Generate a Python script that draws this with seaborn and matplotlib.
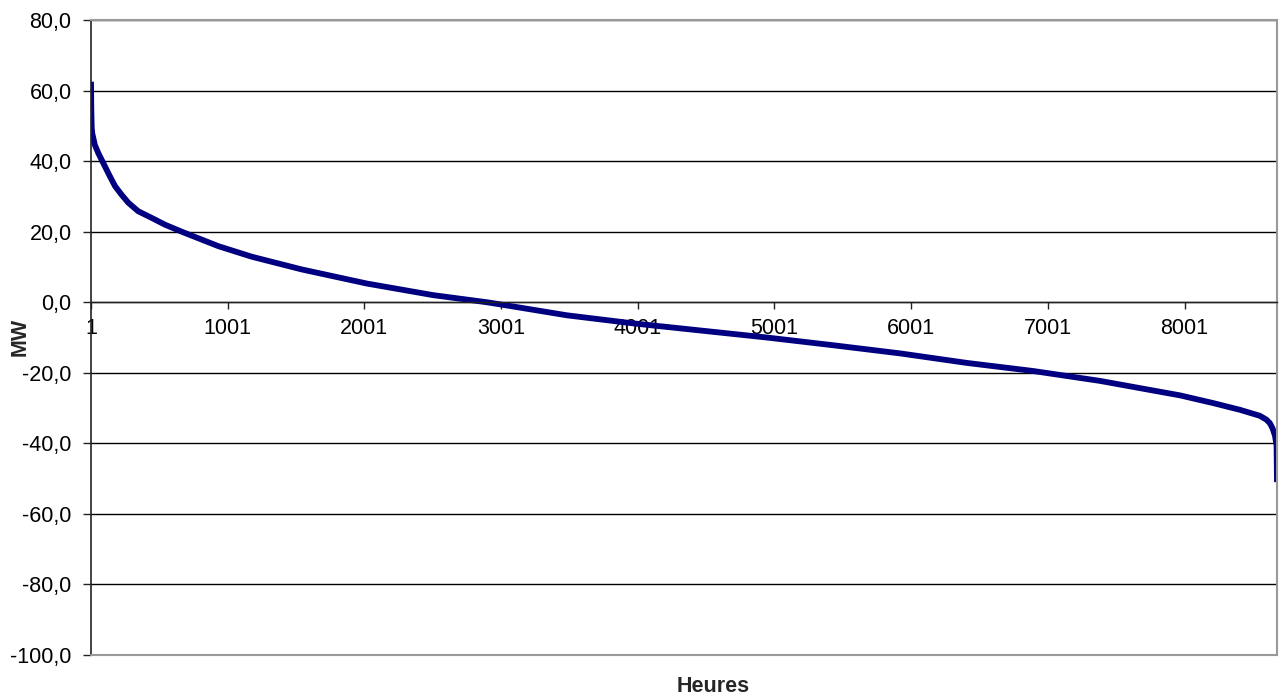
import matplotlib
matplotlib.use("Agg")
import matplotlib.pyplot as plt
import seaborn as sns
import pandas as pd
from matplotlib.ticker import FixedLocator, FuncFormatter

# Data (sorted load duration curve)
hours = [1, 3, 6, 10, 29, 54, 103, 139, 177, 224, 274, 346, 445, 541, 664, 932,
         1177, 1542, 2018, 2505, 2896, 2993, 3481, 3968, 4456, 4944, 5431, 5919,
         6407, 6894, 7382, 7724, 7967, 8211, 8406, 8552, 8600, 8625, 8645, 8662,
         8674, 8677]
mw = [62.5, 55.0, 49.5, 47.9, 44.6, 42.3, 38.5, 35.7, 32.9, 30.5, 28.2, 25.8,
      23.9, 22.0, 20.0, 15.9, 12.9, 9.3, 5.3, 2.0, 0.0, -0.6, -3.7, -6.0, -8.0,
      -10.0, -12.2, -14.5, -17.2, -19.5, -22.3, -24.7, -26.4, -28.6, -30.5,
      -32.2, -33.3, -34.3, -35.8, -37.8, -40.6, -51.0]
x_ticks = [1, 1001, 2001, 3001, 4001, 5001, 6001, 7001, 8001]
y_ticks = [-100, -80, -60, -40, -20, 0, 20, 40, 60, 80]

sns.set_theme(style="white")
plt.rcParams['font.family'] = ['Liberation Sans', 'DejaVu Sans']

df = pd.DataFrame({"Heures": hours, "MW": mw})

fig = plt.figure(figsize=(12.82, 7.0), dpi=100)
ax = fig.add_axes([91/1282, 1 - 655/700, (1277-91)/1282, (655-20)/700])

sns.lineplot(data=df, x="Heures", y="MW", ax=ax, color="#000080",
             linewidth=4.2, solid_capstyle="butt", solid_joinstyle="round")

ax.set_xlim(1, 8677)
ax.set_ylim(-100, 80)

ax.yaxis.set_major_locator(FixedLocator(y_ticks))
ax.xaxis.set_major_locator(FixedLocator(x_ticks))
ax.yaxis.set_major_formatter(FuncFormatter(lambda v, p: f"{v:.1f}".replace('.', ',')))
ax.xaxis.set_major_formatter(FuncFormatter(lambda v, p: f"{int(v)}"))

ax.grid(axis='y', color='black', linewidth=1.0)
ax.grid(axis='x', visible=False)
ax.set_axisbelow(True)

ax.spines['bottom'].set_position(('data', 0))
ax.spines['bottom'].set_color('#222222')
ax.spines['bottom'].set_linewidth(1.0)
ax.spines['left'].set_color('#222222')
ax.spines['left'].set_linewidth(1.2)
for s in ('top', 'right'):
    ax.spines[s].set_color('#999999')
    ax.spines[s].set_linewidth(1.5)
ax.axhline(-100, color='#999999', linewidth=1.5, zorder=3, clip_on=False)

ax.tick_params(axis='y', which='major', direction='out', length=6, width=1,
               color='#222222', labelsize=15.5, labelcolor='black', pad=8, left=True)
ax.tick_params(axis='x', which='major', direction='out', length=5, width=1,
               color='#222222', labelsize=15.5, labelcolor='black', pad=6, bottom=True)

ax.set_xlabel("")
ax.set_ylabel("")
fig.text(20/1282, 1 - 337/700, "MW", rotation=90, ha='center', va='center',
         fontsize=15.5, fontweight='bold')
fig.text(713/1282, 1 - 686/700, "Heures", ha='center', va='center',
         fontsize=15.5, fontweight='bold')

fig.savefig("out.png", dpi=100)
